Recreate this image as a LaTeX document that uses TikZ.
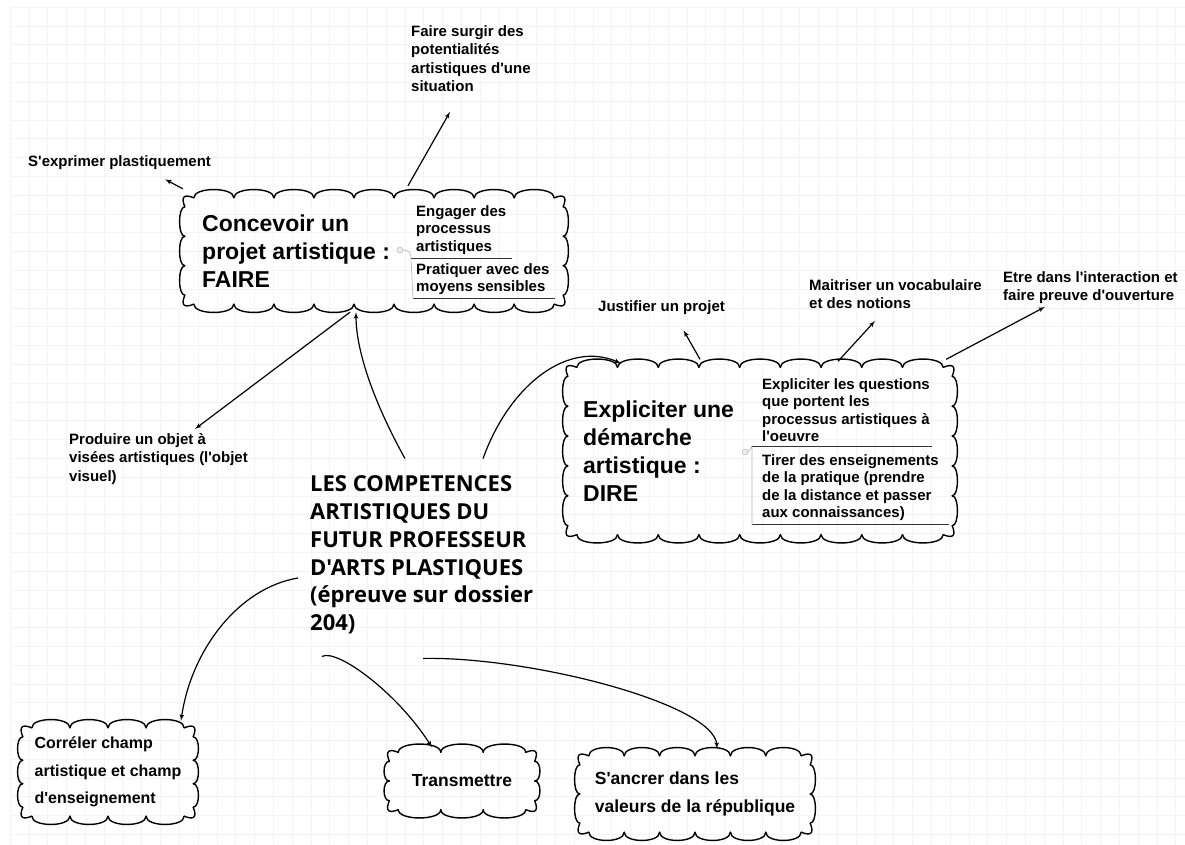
\documentclass[tikz,border=0pt]{standalone}
\usepackage{fontspec}
\setmainfont{Liberation Sans}
\newfontfamily\corefont{Open Sans}
\usetikzlibrary{arrows, positioning, calc}
\newcommand{\q}{\textquotesingle}
\tikzstyle{cloudline} = [draw, line width=1.4pt, line cap=round]
% cloud outline round a named node: #2 bumps along top/bottom, #3 along the sides
\newcommand{\cloudify}[3]{%
  \coordinate (#1-ta) at ([xshift=9pt]#1.north west);
  \coordinate (#1-tb) at ([xshift=-9pt]#1.north east);
  \coordinate (#1-ba) at ([xshift=9pt]#1.south west);
  \coordinate (#1-bb) at ([xshift=-9pt]#1.south east);
  \coordinate (#1-la) at ([yshift=-9pt]#1.north west);
  \coordinate (#1-lb) at ([yshift=9pt]#1.south west);
  \coordinate (#1-ra) at ([yshift=-9pt]#1.north east);
  \coordinate (#1-rb) at ([yshift=9pt]#1.south east);
  \foreach \i in {1,...,#2} {
    \path[cloudline] ($(#1-ta)!{(\i-1)/#2}!(#1-tb)$) .. controls +(0,-11) and +(0,-11) .. ($(#1-ta)!{\i/#2}!(#1-tb)$);
    \path[cloudline] ($(#1-ba)!{(\i-1)/#2}!(#1-bb)$) .. controls +(0,11) and +(0,11) .. ($(#1-ba)!{\i/#2}!(#1-bb)$);
  }
  \foreach \i in {1,...,#3} {
    \path[cloudline] ($(#1-la)!{(\i-1)/#3}!(#1-lb)$) .. controls +(-7,0) and +(-7,0) .. ($(#1-la)!{\i/#3}!(#1-lb)$);
    \path[cloudline] ($(#1-ra)!{(\i-1)/#3}!(#1-rb)$) .. controls +(7,0) and +(7,0) .. ($(#1-ra)!{\i/#3}!(#1-rb)$);
  }
  \path[cloudline] (#1-la) .. controls +(-4,-10) and +(-10,-4) .. (#1-ta);
  \path[cloudline] (#1-tb) .. controls +(10,-4) and +(4,-10) .. (#1-ra);
  \path[cloudline] (#1-rb) .. controls +(4,10) and +(10,4) .. (#1-bb);
  \path[cloudline] (#1-ba) .. controls +(-10,4) and +(-4,10) .. (#1-lb);
}
\tikzstyle{heading} = [font=\fontsize{23}{28}\selectfont\bfseries, align=left, inner sep=0pt, anchor=west]
\tikzstyle{item} = [font=\fontsize{15}{17.5}\selectfont\bfseries, align=left, inner sep=0pt, anchor=north west]
\tikzstyle{leaf} = [font=\fontsize{15}{18.5}\selectfont\bfseries, align=left, inner sep=0pt, anchor=north west]
\tikzstyle{basecloud} = [rectangle, font=\fontsize{17.5}{27.5}\selectfont\bfseries, align=left, inner sep=0pt]
\tikzstyle{coretext} = [font=\corefont\fontsize{22}{27.8}\selectfont\bfseries, align=left, inner sep=0pt, anchor=west]
\tikzstyle{line} = [draw, line width=1.2pt, -latex']
\tikzstyle{sepline} = [draw, line width=0.8pt, black!80]
\tikzstyle{stem} = [draw, line width=0.6pt, gray!60]
\tikzstyle{knob} = [circle, draw=gray!60, fill=gray!15, inner sep=0pt, minimum size=6pt]
\tikzstyle{gridline} = [draw, line width=0.5pt, gray!9]

\begin{document}
\begin{tikzpicture}[x=1pt, y=-1pt]
  \useasboundingbox (0,0) rectangle (1185,845);
  % Background grid
  \foreach \gx in {10,28.8,...,1185} \path[gridline] (\gx,7) -- (\gx,845);
  \foreach \gy in {7,25.8,...,845} \path[gridline] (10,\gy) -- (1185,\gy);

  % Place nodes
  % Centre
  \node[coretext] (core) at (310,555) {LES COMPETENCES\\ARTISTIQUES DU\\FUTUR PROFESSEUR\\D'ARTS PLASTIQUES\\(épreuve sur dossier\\204)};
  % Faire
  \node[rectangle, minimum width=378pt, minimum height=106pt] (faire) at (374,251) {};
  \node[heading] (faireH) at (202,251) {Concevoir un\\projet artistique :\\FAIRE};
  \node[item] (faireA) at (416,205) {Engager des\\processus\\artistiques};
  \node[item] (faireB) at (416,263) {Pratiquer avec des\\moyens sensibles};
  \node[knob] (faireK) at (400,250) {};
  % Dire
  \node[rectangle, minimum width=384pt, minimum height=167pt] (dire) at (760,451) {};
  \node[heading] (direH) at (583,451) {Expliciter une\\démarche\\artistique :\\DIRE};
  \node[item] (direA) at (762,378) {Expliciter les questions\\que portent les\\processus artistiques à\\l\q oeuvre};
  \node[item] (direB) at (762,454) {Tirer des enseignements\\de la pratique (prendre\\de la distance et passer\\aux connaissances)};
  \node[knob] (direK) at (745,452) {};
  % Leaves
  \node[leaf] (expr) at (28,155) {S\q exprimer plastiquement};
  \node[leaf] (surgir) at (411,25) {Faire surgir des\\potentialités\\artistiques d\q une\\situation};
  \node[leaf] (produire) at (69,433) {Produire un objet à\\visées artistiques (l\q objet\\visuel)};
  \node[leaf] (justif) at (598,300) {Justifier un projet};
  \node[leaf] (maitr) at (809,279) {Maitriser un vocabulaire\\et des notions};
  \node[leaf] (etre) at (1003,271) {Etre dans l\q interaction et\\faire preuve d\q ouverture};
  % Bottom
  \node[basecloud, font=\fontsize{16}{27.5}\selectfont\bfseries, minimum width=170pt, minimum height=88pt] (correl) at (108,772) {Corréler champ\\artistique et champ\\d\q enseignement};
  \node[basecloud, minimum width=145pt, minimum height=57pt] (transm) at (462,781) {Transmettre};
  \node[basecloud, minimum width=230pt, minimum height=76pt] (ancrer) at (695,794) {S\q ancrer dans les\\valeurs de la république};

  % Clouds
  \cloudify{faire}{9}{3}
  \cloudify{dire}{9}{5}
  \cloudify{correl}{4}{3}
  \cloudify{transm}{3}{2}
  \cloudify{ancrer}{6}{2}

  % Separators
  \path[sepline] ([xshift=-5pt,yshift=-4pt]faireA.south west) -- ([xshift=6pt,yshift=-4pt]faireA.south east);
  \path[sepline] ([xshift=-3pt,yshift=-4pt]faireB.south west) -- ([xshift=5pt,yshift=-4pt]faireB.south east);
  \path[stem] (faireK.east) .. controls +(5,0) and +(0,-6) .. ([xshift=-5pt,yshift=-4pt]faireA.south west) -- ([xshift=-3pt,yshift=-4pt]faireB.south west);
  \path[sepline] ([xshift=-10pt,yshift=-4pt]direA.south west) -- ([xshift=2pt,yshift=-4pt]direA.south east);
  \path[sepline] ([xshift=-10pt,yshift=-4pt]direB.south west) -- ([xshift=10pt,yshift=-4pt]direB.south east);
  \path[stem] (direK.east) -- ([xshift=-10pt,yshift=-4pt]direA.south west) -- ([xshift=-10pt,yshift=-4pt]direB.south west);

  % Draw edges
  \path [line] ([xshift=-2pt,yshift=9pt]faire.north west) -- ([xshift=-46pt,yshift=-10pt]expr.south east);
  \path [line] ([xshift=34pt,yshift=12pt]faire.north) -- ([xshift=39pt,yshift=-20pt]surgir.south west);
  \path [line] ([xshift=-24pt,yshift=-8pt]faire.south) -- ([xshift=126pt,yshift=4pt]produire.north west);
  \path [line] ([xshift=-60pt,yshift=8pt]dire.north) -- ([xshift=22pt,yshift=-16pt]justif.south);
  \path [line] ([xshift=78pt,yshift=6pt]dire.north) -- ([xshift=66pt,yshift=-12pt]maitr.south west);
  \path [line] ([xshift=-6pt,yshift=8pt]dire.north east) -- ([xshift=42pt,yshift=-3pt]etre.south west);

  \path [line] ([xshift=95pt,yshift=17pt]core.north west) .. controls +(-25,-45) and +(0,45) .. ([xshift=-18pt,yshift=-8pt]faire.south);
  \path [line] ([xshift=173pt,yshift=17pt]core.north west) .. controls +(27,-75) and +(-52,-23) .. ([xshift=53pt,yshift=4pt]dire.north west);
  \path [line] ([xshift=-12pt,yshift=-23pt]core.west) .. controls +(-60,10) and +(10,-70) .. ([xshift=73pt,yshift=7pt]correl.north);
  \path [line] ([xshift=12pt,yshift=-22pt]core.south west) .. controls +(15,-8) and +(-35,-55) .. ([xshift=-30pt,yshift=5pt]transm.north);
  \path [line] ([xshift=113pt,yshift=-24pt]core.south west) .. controls +(107,-2) and +(-2,-45) .. ([xshift=22pt,yshift=7pt]ancrer.north);
\end{tikzpicture}
\end{document}
